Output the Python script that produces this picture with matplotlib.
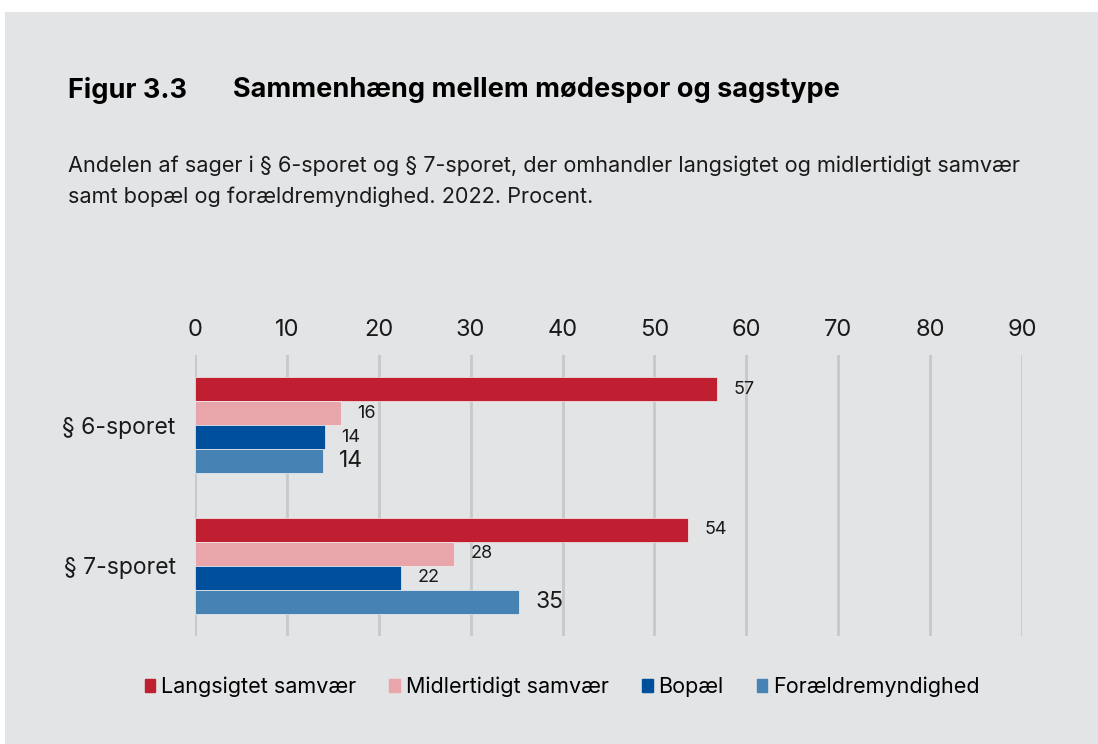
import numpy as np
import matplotlib.pyplot as plt
from matplotlib.patches import Rectangle

plt.rcParams['font.family'] = ['Inter', 'DejaVu Sans']

categories = ['§ 6-sporet', '§ 7-sporet']
series = ['Langsigtet samvær', 'Midlertidigt samvær', 'Bopæl', 'Forældremyndighed']
values = {
    'Langsigtet samvær': [56.8, 53.7],
    'Midlertidigt samvær': [15.9, 28.2],
    'Bopæl': [14.1, 22.4],
    'Forældremyndighed': [13.9, 35.3],
}
labels = {
    'Langsigtet samvær': ['57', '54'],
    'Midlertidigt samvær': ['16', '28'],
    'Bopæl': ['14', '22'],
    'Forældremyndighed': ['14', '35'],
}
colors = ['#c01f32', '#e8a6ab', '#004f9d', '#4682b4']
xticks = [0, 10, 20, 30, 40, 50, 60, 70, 80, 90]

bg = '#e3e4e6'
W, H = 1098, 744
fig = plt.figure(figsize=(W / 100, H / 100), dpi=100)
fig.patch.set_facecolor('white')
fig.add_artist(Rectangle((5 / W, 0), 1 - 5 / W, 1 - 12 / H, transform=fig.transFigure,
                         facecolor=bg, edgecolor='none', zorder=-10))

fig.text(68 / W, 1 - 90 / H, 'Figur 3.3', fontsize=19.5, fontweight='bold', va='center')
fig.text(233 / W, 1 - 90 / H, 'Sammenhæng mellem mødespor og sagstype', fontsize=19.5,
         fontweight='bold', va='center')
fig.text(68 / W, 1 - 166 / H, 'Andelen af sager i § 6-sporet og § 7-sporet, der omhandler langsigtet og midlertidigt samvær',
         fontsize=15.6, va='center', color='#1a1a1a')
fig.text(68 / W, 1 - 197 / H, 'samt bopæl og forældremyndighed. 2022. Procent.',
         fontsize=15.6, va='center', color='#1a1a1a')

ax = fig.add_axes([195 / W, 1 - 636 / H, (1022 - 195) / W, (636 - 355) / H])
ax.set_facecolor(bg)
ax.patch.set_alpha(0)

y = np.arange(len(categories))
bh = 24 / 140
for i, s in enumerate(series):
    pos = y - 2 * bh + bh / 2 + i * bh
    ax.barh(pos, values[s], height=bh, color=colors[i], edgecolor='#f0f0f0', linewidth=0.5, zorder=3)
    fs = 16.5 if i == 3 else 13
    for p, v, lab in zip(pos, values[s], labels[s]):
        ax.text(v + 1.8, p, lab, fontsize=fs, va='center', ha='left', color='#1a1a1a', zorder=4)

ax.set_xlim(0, 90)
ax.set_ylim(1.5, -0.5)
ax.set_xticks(xticks)
ax.xaxis.tick_top()
ax.tick_params(axis='x', length=0, pad=10, labelsize=17, labelcolor='#1a1a1a')
ax.set_yticks(y)
ax.set_yticklabels(categories)
ax.tick_params(axis='y', length=0, pad=14, labelsize=16.5, labelcolor='#1a1a1a')
ax.grid(axis='x', color='#c8c8c8', linewidth=2, zorder=0)
for sp in ax.spines.values():
    sp.set_visible(False)

handles = [Rectangle((0, 0), 1, 1, color=c) for c in colors]
fig.legend(handles, series, loc='center', bbox_to_anchor=(562 / W, 1 - 687 / H), ncol=4,
           frameon=False, fontsize=15.5, handlelength=0.5, handleheight=0.5,
           handletextpad=0.25, columnspacing=1.55)

fig.savefig('out.png', dpi=100, facecolor=fig.get_facecolor())
